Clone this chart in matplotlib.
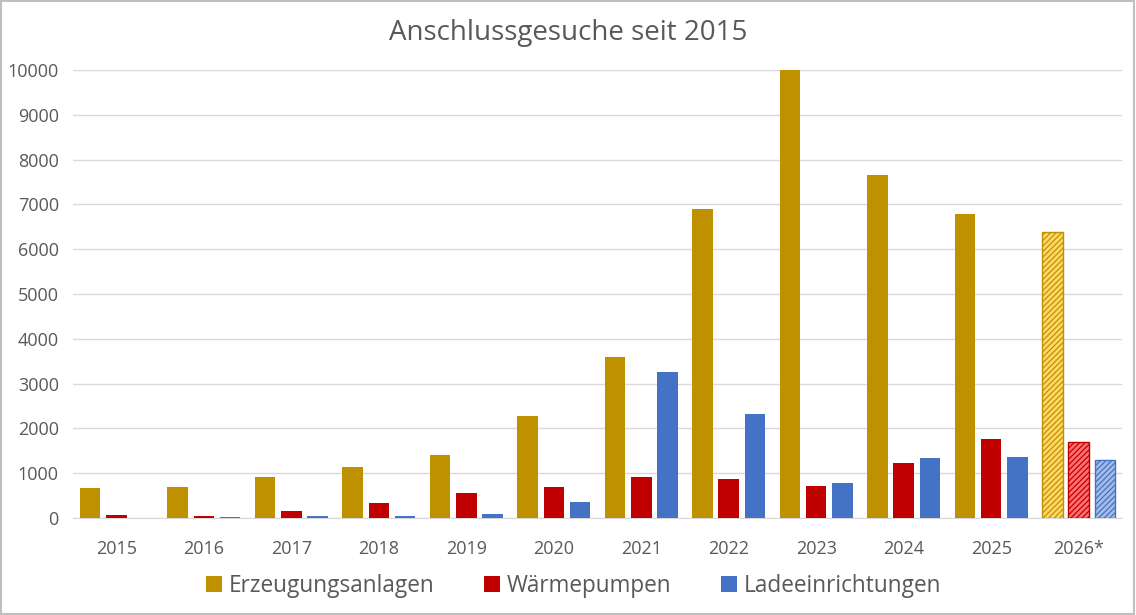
import numpy as np
import matplotlib.pyplot as plt
from matplotlib.patches import Rectangle

plt.rcParams['font.family'] = ['Open Sans', 'DejaVu Sans']
plt.rcParams['hatch.linewidth'] = 0.9

years = ['2015', '2016', '2017', '2018', '2019', '2020', '2021', '2022', '2023', '2024', '2025', '2026*']
erzeugung = [670, 690, 910, 1130, 1400, 2270, 3600, 6900, 10000, 7660, 6790, 6390]
waerme = [60, 45, 155, 340, 550, 690, 920, 870, 700, 1230, 1770, 1700]
lade = [0, 20, 35, 50, 90, 360, 3260, 2320, 770, 1340, 1360, 1290]

names = ['Erzeugungsanlagen', 'Wärmepumpen', 'Ladeeinrichtungen']
colors = ['#BF9000', '#C00000', '#4472C4']
light = ['#FFD966', '#FF7070', '#A4BCE6']

fig = plt.figure(figsize=(11.36, 6.15), dpi=100)
ax = fig.add_axes([0.064, 0.158, 0.924, 0.728])

x = np.arange(len(years))
w = 0.235
step = 0.30
series = [erzeugung, waerme, lade]
for i, vals in enumerate(series):
    ax.bar(x[:-1] + (i - 1) * step, vals[:-1], w, color=colors[i], label=names[i], zorder=3)
    # 2026 is a forecast -> hatched bars
    ax.bar(x[-1] + (i - 1) * step, vals[-1], w, color=light[i], edgecolor=colors[i],
           hatch='//////', linewidth=1.0, zorder=3)

ax.set_xlim(-0.5, len(years) - 0.5)
ax.set_ylim(0, 10000)
ax.set_yticks(range(0, 10001, 1000))
ax.set_xticks(x)
ax.set_xticklabels(years)
ax.yaxis.grid(True, color='#D9D9D9', linewidth=1, zorder=0)
ax.tick_params(axis='both', length=0, labelsize=13, colors='#595959')
ax.tick_params(axis='x', pad=16)
ax.tick_params(axis='y', pad=10)
for s in ['top', 'right', 'left']:
    ax.spines[s].set_visible(False)
ax.spines['bottom'].set_color('#D9D9D9')

fig.text(0.5, 0.946, 'Anschlussgesuche seit 2015', fontsize=20, color='#595959',
         ha='center', va='center')

fig.legend(loc='center', bbox_to_anchor=(0.505, 0.047), ncol=3, frameon=False,
           fontsize=16.3, labelcolor='#595959', handlelength=0.7, handleheight=0.7,
           handletextpad=0.3, columnspacing=2.2)

fig.add_artist(Rectangle((0.001, 0.002), 0.997, 0.996, transform=fig.transFigure,
                         fill=False, edgecolor='#BFBFBF', linewidth=1.5))

fig.savefig('out.png', dpi=100)
